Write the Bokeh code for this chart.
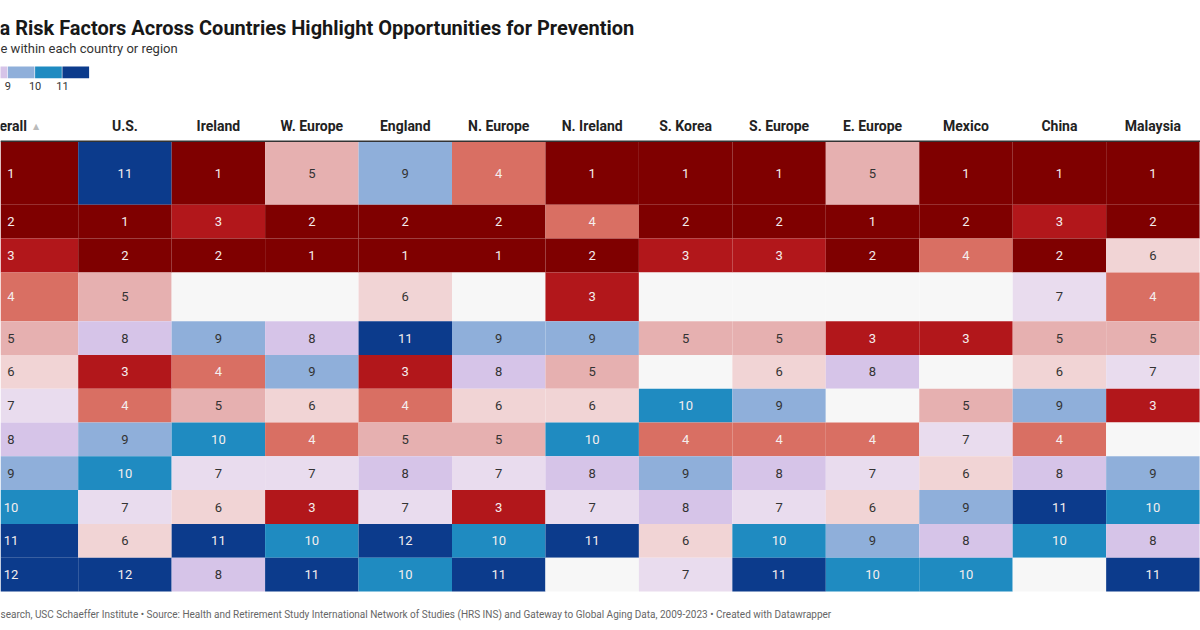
from bokeh.plotting import figure
from bokeh.models import ColumnDataSource, Range1d
from bokeh.core.properties import value
from bokeh.embed import file_html
from bokeh.resources import INLINE

# ---------------- data ----------------
title_text = "a Risk Factors Across Countries Highlight Opportunities for Prevention"
subtitle_text = "e within each country or region"
footer_text = ("search, USC Schaeffer Institute \u2022 Source: Health and Retirement Study International "
               "Network of Studies (HRS INS) and Gateway to Global Aging Data, 2009-2023 \u2022 Created with Datawrapper")

columns = ["Overall", "U.S.", "Ireland", "W. Europe", "England", "N. Europe", "N. Ireland",
           "S. Korea", "S. Europe", "E. Europe", "Mexico", "China", "Malaysia"]
header_labels = ["erall", "U.S.", "Ireland", "W. Europe", "England", "N. Europe", "N. Ireland",
                 "S. Korea", "S. Europe", "E. Europe", "Mexico", "China", "Malaysia"]
sort_marker = "\u25b2"

N = None  # no data
overall    = [1, 2, 3, 4, 5, 6, 7, 8, 9, 10, 11, 12]
us         = [11, 1, 2, 5, 8, 3, 4, 9, 10, 7, 6, 12]
ireland    = [1, 3, 2, N, 9, 4, 5, 10, 7, 6, 11, 8]
w_europe   = [5, 2, 1, N, 8, 9, 6, 4, 7, 3, 10, 11]
england    = [9, 2, 1, 6, 11, 3, 4, 5, 8, 7, 12, 10]
n_europe   = [4, 2, 1, N, 9, 8, 6, 5, 7, 3, 10, 11]
n_ireland  = [1, 4, 2, 3, 9, 5, 6, 10, 8, 7, 11, N]
s_korea    = [1, 2, 3, N, 5, N, 10, 4, 9, 8, 6, 7]
s_europe   = [1, 2, 3, N, 5, 6, 9, 4, 8, 7, 10, 11]
e_europe   = [5, 1, 2, N, 3, 8, N, 4, 7, 6, 9, 10]
mexico     = [1, 2, 4, N, 3, N, 5, 7, 6, 9, 8, 10]
china      = [1, 3, 2, 7, 5, 6, 9, 4, 8, 11, 10, N]
malaysia   = [1, 2, 6, 4, 5, 7, 3, N, 9, 10, 8, 11]
series = [overall, us, ireland, w_europe, england, n_europe, n_ireland,
          s_korea, s_europe, e_europe, mexico, china, malaysia]

legend_ranks = [8, 9, 10, 11]
legend_labels = ["9", "10", "11"]

# ---------------- styles / layout ----------------
rank_colors = {1: "#7f0000", 2: "#7f0000", 3: "#b2171b", 4: "#d96f63", 5: "#e6b0b0",
               6: "#f1d4d5", 7: "#e9dcee", 8: "#d6c4e8", 9: "#8fafda", 10: "#1f8bc1",
               11: "#0c3b8c", 12: "#0c3b8c"}
blank_color = "#f7f7f7"
dark_text_ranks = {5, 6, 7, 8, 9}

W, H = 1200, 630
row_heights = [63.6, 33.7, 34.0, 48.7, 33.7, 33.8, 33.8, 33.8, 33.8, 33.8, 33.8, 33.8]
table_top = 140.7
first_col_right = 77.7
col_w = 93.45
first_col_center = 10.5

p = figure(width=W, height=H, output_backend="svg", toolbar_location=None,
           x_range=Range1d(0, W), y_range=Range1d(H, 0), min_border=0)
p.axis.visible = False
p.grid.visible = False
p.outline_line_color = None
p.background_fill_color = "white"
p.border_fill_color = "white"

# row boundaries
row_tops = []
y = table_top
for h in row_heights:
    row_tops.append(y)
    y += h
row_bottoms = [t + h for t, h in zip(row_tops, row_heights)]

lefts, rights, tops, bottoms, fills = [], [], [], [], []
tx, ty, tt, tc = [], [], [], []
for ci, vals in enumerate(series):
    if ci == 0:
        l, r, cx = 0, first_col_right, first_col_center
    else:
        l = first_col_right + (ci - 1) * col_w
        r = l + col_w
        cx = (l + r) / 2
    for ri, v in enumerate(vals):
        lefts.append(l); rights.append(r)
        tops.append(row_tops[ri]); bottoms.append(row_bottoms[ri])
        fills.append(rank_colors[v] if v is not None else blank_color)
        if v is not None:
            tx.append(cx)
            ty.append((row_tops[ri] + row_bottoms[ri]) / 2)
            tt.append(str(v))
            tc.append("#333333" if v in dark_text_ranks else "#f4eeee")

cells = ColumnDataSource(dict(left=lefts, right=rights, top=tops, bottom=bottoms, fill=fills))
p.quad(left="left", right="right", top="top", bottom="bottom", fill_color="fill",
       line_color=None, source=cells)

labels = ColumnDataSource(dict(x=tx, y=ty, t=tt, c=tc))
p.text(x="x", y="y", text="t", text_color="c", source=labels, text_align="center",
       text_baseline="middle", text_font=value("Roboto"), text_font_size="13px")

# header
hx = [first_col_right + (i + 0.5) * col_w for i in range(len(columns) - 1)]
hs = ColumnDataSource(dict(x=hx, y=[125.5] * len(hx), t=header_labels[1:]))
p.text(x="x", y="y", text="t", source=hs, text_align="center", text_baseline="middle",
       text_font=value("Roboto"), text_font_style="bold", text_font_size="14px", text_color="#222222")
p.text(x=[-1], y=[125.5], text=[header_labels[0]], text_align="left", text_baseline="middle",
       text_font=value("Roboto"), text_font_style="bold", text_font_size="14px", text_color="#222222")
p.text(x=[35.5], y=[125.5], text=[sort_marker], text_align="center", text_baseline="middle",
       text_font=value("DejaVu Sans"), text_font_size="8px", text_color="#bbbbbb")
p.segment(x0=[0], x1=[W], y0=[table_top], y1=[table_top], line_color="#333333", line_width=1.6)

# title / subtitle
p.text(x=[-1], y=[27.5], text=[title_text], text_font=value("Roboto"), text_font_style="bold",
       text_font_size="20px", text_color="#181818", text_baseline="alphabetic")
p.text(x=[0], y=[48], text=[subtitle_text], text_font=value("Roboto"), text_font_size="13px",
       text_color="#333333", text_baseline="middle")

# legend
sw_w = 26.7
sw_l = [6.7 - sw_w + i * (sw_w + 0.6) for i in range(len(legend_ranks))]
p.quad(left=sw_l, right=[s + sw_w for s in sw_l], top=[66] * len(sw_l), bottom=[77.7] * len(sw_l),
       fill_color=[rank_colors[r] for r in legend_ranks], line_color=None)
lab_x = [sw_l[i + 1] for i in range(len(legend_labels))]
p.text(x=lab_x, y=[85.5] * len(lab_x), text=legend_labels, text_align="center", text_baseline="middle",
       text_font=value("Roboto"), text_font_size="11px", text_color="#333333")

# footer
p.text(x=[0], y=[614], text=[footer_text], text_font=value("Roboto"), text_font_size="10px",
       text_color="#666666", text_baseline="middle")

open("out.html", "w").write(file_html(p, INLINE))
